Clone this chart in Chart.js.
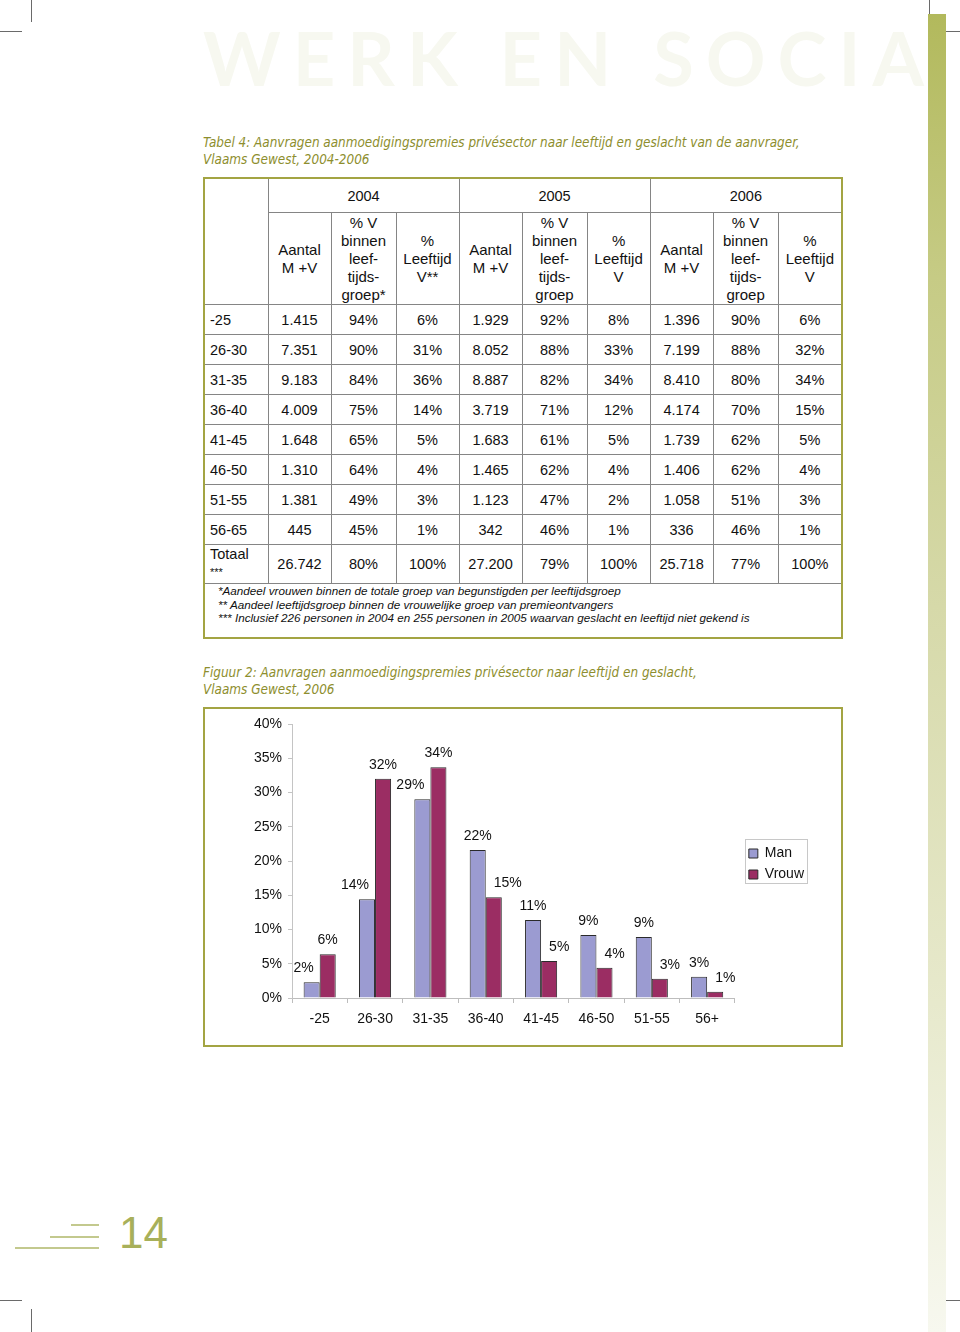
<!DOCTYPE html>
<html>
<head>
<meta charset="utf-8">
<script src="https://cdn.jsdelivr.net/npm/chart.js@4.4.1/dist/chart.umd.min.js"></script>
<style>
  html, body { margin:0; padding:0; background:#fff; }
  #page { position:relative; width:960px; height:1332px; overflow:hidden; background:#fff; }
  .abs { position:absolute; }
  .mark { position:absolute; background:#6a6a6a; }
  #watermark { left:203px; top:18px; white-space:nowrap;
    font-family:"Lato","Open Sans",sans-serif; font-weight:700; font-size:74px; line-height:80px; letter-spacing:12px; color:#f7f8f0; }
  #greenbar { left:928px; top:14px; width:18px; height:1318px;
    background:linear-gradient(to bottom,#b2b95c 0%,#c6cb85 20%,#d6d9a9 45%,#e7e9cc 75%,#f7f8ef 100%); }
  .caption { font-family:"DejaVu Sans Condensed","DejaVu Sans",sans-serif; font-stretch:condensed; font-style:italic;
    font-size:13.4px; line-height:16.5px; color:#8d8e2e; white-space:nowrap; }
  #tbl { position:absolute; left:203px; top:177px; border-collapse:collapse; table-layout:fixed; width:640px;
    border:2px solid #a3a443; font-family:"Liberation Sans",Arial,sans-serif; font-size:14.5px; color:#111; }
  #tbl td { border:1px solid #858585; text-align:center; vertical-align:middle; padding:0; line-height:18px; }
  #tbl td.first { text-align:left; padding-left:5px; }
  #tbl tr.h1 td { height:33px; }
  #tbl tr.h2 td { height:91px; font-size:15px; }
  #tbl tr.d td { height:29px; }
  #tbl tr.tot td { height:37px; }
  #tbl td.blank { border-bottom:1px solid #858585; }
  #tbl tr.fn td { height:53px; text-align:left; vertical-align:top; padding-left:13px; padding-top:0;
    font-style:italic; font-size:11.7px; line-height:13.5px; border-left:2px solid #a3a443; border-right:2px solid #a3a443; border-bottom:2px solid #a3a443; }
  .stars { font-size:11px; line-height:12px; }
  #chartFrame { left:203px; top:707px; width:636px; height:336px; border:2px solid #a3a443; }
  #chartFrame canvas { display:block; }
  #pnum { left:119px; top:1206px; font-family:"Liberation Sans",Arial,sans-serif; font-size:44px; line-height:54px; color:#a8b05a; }
  .pline { position:absolute; height:2px; background:#c3c98e; }
</style>
</head>
<body>
<div id="page">
  <!-- crop marks -->
  <div class="mark" style="left:31px;top:0;width:1px;height:22px;"></div>
  <div class="mark" style="left:0;top:31px;width:22px;height:1px;"></div>
  <div class="mark" style="left:929px;top:0;width:1px;height:22px;"></div>
  <div class="mark" style="left:938px;top:31px;width:22px;height:1px;"></div>
  <div class="mark" style="left:0;top:1300px;width:22px;height:1px;"></div>
  <div class="mark" style="left:31px;top:1309px;width:1px;height:23px;"></div>
  <div class="mark" style="left:938px;top:1300px;width:22px;height:1px;"></div>
  <div class="mark" style="left:929px;top:1309px;width:1px;height:23px;"></div>

  <div id="watermark" class="abs">WERK EN SOCIA</div>
  <div id="greenbar" class="abs"></div>

  <div class="abs caption" style="left:203px;top:135px;">Tabel 4: Aanvragen aanmoedigingspremies privésector naar leeftijd en geslacht van de aanvrager,<br>Vlaams Gewest, 2004-2006</div>

  <table id="tbl"></table>

  <div class="abs caption" style="left:203px;top:665px;">Figuur 2: Aanvragen aanmoedigingspremies privésector naar leeftijd en geslacht,<br>Vlaams Gewest, 2006</div>

  <div id="chartFrame" class="abs"><canvas id="chart" width="636" height="336"></canvas></div>

  <div class="pline" style="left:71px;top:1224px;width:28px;"></div>
  <div class="pline" style="left:50px;top:1236px;width:49px;"></div>
  <div class="pline" style="left:15px;top:1247px;width:84px;"></div>
  <div id="pnum" class="abs">14</div>
</div>

<script>
// ---------- Table data ----------
const tableYears = ['2004', '2005', '2006'];
const tableHeaders = [
  ['Aantal<br>M +V', '% V<br>binnen<br>leef-<br>tijds-<br>groep*', '%<br>Leeftijd<br>V**'],
  ['Aantal<br>M +V', '% V<br>binnen<br>leef-<br>tijds-<br>groep', '%<br>Leeftijd<br>V'],
  ['Aantal<br>M +V', '% V<br>binnen<br>leef-<br>tijds-<br>groep', '%<br>Leeftijd<br>V']
];
const tableRowLabels = ['-25', '26-30', '31-35', '36-40', '41-45', '46-50', '51-55', '56-65'];
const tableRows = [
  ['1.415', '94%', '6%',  '1.929', '92%', '8%',  '1.396', '90%', '6%'],
  ['7.351', '90%', '31%', '8.052', '88%', '33%', '7.199', '88%', '32%'],
  ['9.183', '84%', '36%', '8.887', '82%', '34%', '8.410', '80%', '34%'],
  ['4.009', '75%', '14%', '3.719', '71%', '12%', '4.174', '70%', '15%'],
  ['1.648', '65%', '5%',  '1.683', '61%', '5%',  '1.739', '62%', '5%'],
  ['1.310', '64%', '4%',  '1.465', '62%', '4%',  '1.406', '62%', '4%'],
  ['1.381', '49%', '3%',  '1.123', '47%', '2%',  '1.058', '51%', '3%'],
  ['445',   '45%', '1%',  '342',   '46%', '1%',  '336',   '46%', '1%']
];
const tableTotal = ['26.742', '80%', '100%', '27.200', '79%', '100%', '25.718', '77%', '100%'];
const tableFootnotes = [
  '*Aandeel vrouwen binnen de totale groep van begunstigden per leeftijdsgroep',
  '** Aandeel leeftijdsgroep binnen de vrouwelijke groep van premieontvangers',
  '*** Inclusief 226 personen in 2004 en 255 personen in 2005 waarvan geslacht en leeftijd niet gekend is'
];

// ---------- Chart data ----------
const categories = ['-25', '26-30', '31-35', '36-40', '41-45', '46-50', '51-55', '56+'];
const manValues = [2.3, 14.4, 29.0, 21.6, 11.4, 9.2, 8.9, 3.1];
const vrouwValues = [6.4, 32.0, 33.7, 14.7, 5.4, 4.4, 2.8, 0.9];
const manLabels = ['2%', '14%', '29%', '22%', '11%', '9%', '9%', '3%'];
const vrouwLabels = ['6%', '32%', '34%', '15%', '5%', '4%', '3%', '1%'];
const yTickValues = [0, 5, 10, 15, 20, 25, 30, 35, 40];
const seriesNames = ['Man', 'Vrouw'];

// ---------- Build table ----------
(function buildTable() {
  const colW = [64, 63, 65, 63, 63, 65, 63, 63, 65, 64];
  let html = '<colgroup>' + colW.map(w => '<col style="width:' + w + 'px">').join('') + '</colgroup>';
  html += '<tr class="h1"><td rowspan="2" class="blank"></td>' +
    tableYears.map(y => '<td colspan="3">' + y + '</td>').join('') + '</tr>';
  html += '<tr class="h2">' + tableHeaders.map(g => g.map(h => '<td>' + h + '</td>').join('')).join('') + '</tr>';
  tableRows.forEach((r, i) => {
    html += '<tr class="d"><td class="first">' + tableRowLabels[i] + '</td>' + r.map(v => '<td>' + v + '</td>').join('') + '</tr>';
  });
  html += '<tr class="tot"><td class="first" style="vertical-align:top;padding-top:1px;line-height:17px;">Totaal<br><span class="stars">***</span></td>' +
    tableTotal.map(v => '<td>' + v + '</td>').join('') + '</tr>';
  html += '<tr class="fn"><td colspan="10">' + tableFootnotes.join('<br>') + '</td></tr>';
  document.getElementById('tbl').innerHTML = html;
})();

// ---------- Chart ----------
const FONT = '"Liberation Sans", Arial, sans-serif';

const barLabelPlugin = {
  id: 'barLabels',
  afterDatasetsDraw(chart) {
    const ctx = chart.ctx;
    ctx.save();
    ctx.font = '14px ' + FONT;
    ctx.fillStyle = '#111';
    ctx.textAlign = 'center';
    ctx.textBaseline = 'middle';
    const metas = [chart.getDatasetMeta(0), chart.getDatasetMeta(1)];
    const labelSets = [manLabels, vrouwLabels];
    metas.forEach((meta, di) => {
      const other = metas[1 - di];
      meta.data.forEach((bar, i) => {
        const txt = labelSets[di][i];
        const w = ctx.measureText(txt).width;
        const half = bar.width / 2;
        const cy = bar.y - 14;
        let cx = bar.x;
        const nb = other.data[i];
        if (nb.y < cy + 8) {
          if (di === 0) cx = (bar.x + half) - 6 - w / 2;
          else cx = (bar.x - half) + 8 + w / 2;
        }
        ctx.fillText(txt, cx, cy);
      });
    });
    ctx.restore();
  }
};

const legendPlacePlugin = {
  id: 'legendPlace',
  afterLayout(chart) {
    const lg = chart.legend;
    const ca = chart.chartArea;
    const w = lg.width;
    lg.left = ca.right + 7;
    lg.right = lg.left + w;
    lg.top = ca.top + 3;
    lg.bottom = ca.bottom + 3;
  },
  afterDraw(chart) {
    const hb = chart.legend.legendHitBoxes;
    if (!hb || !hb.length) return;
    const l = Math.min(...hb.map(h => h.left)) - 4;
    const r = Math.max(...hb.map(h => h.left + h.width)) + 3;
    const t = Math.min(...hb.map(h => h.top)) - 8;
    const b = Math.max(...hb.map(h => h.top + h.height)) + 1;
    const ctx = chart.ctx;
    ctx.save();
    ctx.strokeStyle = '#c8c8c8';
    ctx.lineWidth = 1;
    ctx.strokeRect(Math.round(l) + 0.5, Math.round(t) + 0.5, Math.round(r - l), Math.round(b - t));
    ctx.restore();
  }
};

new Chart(document.getElementById('chart'), {
  type: 'bar',
  data: {
    labels: categories,
    datasets: [
      { label: seriesNames[0], data: manValues, backgroundColor: '#9b9bd1', borderColor: '#2a2a2a', borderWidth: 1,
        categoryPercentage: 0.58, barPercentage: 1.0 },
      { label: seriesNames[1], data: vrouwValues, backgroundColor: '#9b2d63', borderColor: '#2a2a2a', borderWidth: 1,
        categoryPercentage: 0.58, barPercentage: 1.0 }
    ]
  },
  options: {
    responsive: false,
    animation: false,
    devicePixelRatio: 1,
    layout: { padding: { left: 0, right: 34, top: 15, bottom: 0 } },
    plugins: {
      tooltip: { enabled: false },
      legend: {
        position: 'right',
        align: 'center',
        labels: { boxWidth: 9, boxHeight: 9, padding: 7, color: '#111', font: { size: 14, family: FONT } }
      }
    },
    scales: {
      x: {
        grid: { offset: true, drawOnChartArea: false, drawTicks: true, tickLength: 5, color: '#bdbdbd' },
        border: { color: '#bdbdbd' },
        ticks: { color: '#111', font: { size: 14, family: FONT }, padding: 8, maxRotation: 0 },
        afterFit(s) { s.height = 47; s.paddingLeft = 0; s.paddingRight = 0; }
      },
      y: {
        min: 0, max: 40,
        afterBuildTicks(s) { s.ticks = yTickValues.map(v => ({ value: v })); },
        grid: { drawOnChartArea: false, drawTicks: true, tickLength: 4, color: '#c4c4c4' },
        border: { color: '#c4c4c4' },
        ticks: { color: '#111', font: { size: 14, family: FONT }, padding: 6, callback: v => v + '%' },
        afterFit(s) { s.width = 87; s.paddingTop = 0; s.paddingBottom = 0; }
      }
    }
  },
  plugins: [barLabelPlugin, legendPlacePlugin]
});
</script>
</body>
</html>
